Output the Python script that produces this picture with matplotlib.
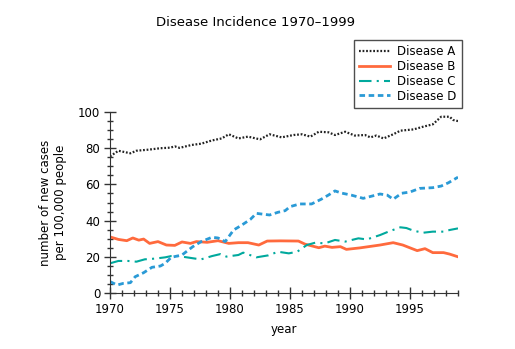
import matplotlib
matplotlib.use("Agg")
import matplotlib.pyplot as plt
from matplotlib.ticker import MultipleLocator

# Values
years_a = [1970, 1970.7, 1971.7, 1972.2, 1973.2, 1974.2, 1975, 1975.4, 1975.8, 1976.8,
           1977.6, 1978.5, 1979.3, 1979.9, 1980.7, 1981.5, 1982.5, 1983.3, 1984.3,
           1985.3, 1986, 1986.7, 1987.4, 1988.2, 1988.75, 1989.6, 1990.4, 1991.25,
           1991.7, 1992.2, 1992.8, 1993.6, 1994.2, 1995.3, 1996.1, 1996.9, 1997.6,
           1998.3, 1998.6, 1999]
disease_a = [75.5, 78.6, 77.2, 78.6, 79.2, 80, 80.3, 81, 80.2, 81.8,
             82.5, 84.3, 85.4, 87.7, 85.4, 86.4, 84.9, 87.7, 86,
             87.3, 87.7, 86.4, 89.1, 88.8, 87.3, 89.1, 87, 87.3,
             86, 87, 85.4, 87.7, 89.7, 90.4, 91.9, 93.2, 97.4,
             97.4, 95.6, 95]

years_b = [1970, 1970.7, 1971.4, 1971.9, 1972.4, 1972.8, 1973.3, 1974, 1974.7, 1975.4,
           1976, 1976.7, 1977.2, 1978.1, 1979, 1979.9, 1980.7, 1981.5, 1982.4, 1983.1,
           1984.2, 1985.7, 1986.25, 1987.4, 1987.9, 1988.5, 1989.2, 1989.7, 1990.8,
           1992.5, 1993.6, 1994.4, 1995.6, 1996.25, 1996.9, 1997.8, 1998.3, 1999]
disease_b = [31, 29.6, 28.9, 30.4, 29.2, 29.8, 27.4, 28.4, 26.5, 26.3,
             28.2, 27.4, 28.4, 28, 28.9, 27.4, 27.8, 27.8, 26.5, 28.7,
             28.8, 28.7, 27, 25, 25.9, 25.2, 25.6, 24.1, 24.9,
             26.5, 27.8, 26.5, 23.4, 24.5, 22.3, 22.3, 21.5, 20]

years_c = [1970, 1970.7, 1971.5, 1972.2, 1972.9, 1973.75, 1974.6, 1975.1, 1975.7, 1976.4,
           1977.1, 1977.6, 1978.5, 1979.2, 1979.7, 1980.7, 1981.1, 1982.2, 1983.2, 1984,
           1984.9, 1985.6, 1986.4, 1987.1, 1987.9, 1988.75, 1989.6, 1990.7, 1991.4,
           1992.5, 1993.2, 1994.2, 1994.7, 1995.3, 1996.1, 1996.9, 1997.8, 1998.3, 1999]
disease_c = [16.4, 17.7, 17.7, 17.3, 18.6, 19, 19.7, 20.4, 20.4, 19.7,
             19, 18.6, 20.4, 21.5, 20.1, 21, 22.3, 19.7, 20.8, 22.8,
             21.9, 22.8, 26.5, 27.8, 27.4, 29.3, 28.4, 30.2, 29.6,
             32, 33.9, 36.3, 35.9, 34.4, 33.3, 33.9, 33.9, 34.8, 35.7]

years_d = [1970, 1970.6, 1971.1, 1971.7, 1972.1, 1972.8, 1973.5, 1974.2, 1974.6, 1975.1,
           1976, 1976.9, 1977.6, 1978.5, 1979, 1979.6, 1980.3, 1981, 1981.7, 1982.2,
           1982.8, 1983.3, 1984, 1984.6, 1985, 1985.8, 1986.8, 1987.6, 1988.2, 1988.75,
           1989.3, 1990.1, 1991.1, 1991.8, 1992.5, 1993.1, 1993.6, 1994.3, 1995,
           1995.8, 1996.9, 1997.6, 1998.2, 1999]
disease_d = [6.3, 4.4, 5.3, 5.7, 9, 11.2, 14.2, 14.9, 16.4, 19.7,
             21, 25.6, 28.4, 30.8, 30.4, 28.4, 34.8, 37.6, 40.7, 44,
             43.5, 43.1, 44.6, 45.5, 47.7, 49.2, 49.2, 51.8, 54.1, 56.4,
             55.2, 54.1, 52.3, 53.5, 54.7, 54.1, 51.8, 55.1, 55.8,
             57.8, 58.2, 59.1, 60.9, 64]

plt.rcParams['font.family'] = ['DejaVu Sans']
plt.rcParams['font.size'] = 8.5

fig = plt.figure(figsize=(5.15, 3.49), dpi=100)
ax = fig.add_axes([0.2136, 0.1605, 0.6757, 0.5185])

ax.plot(years_a, disease_a, color='#222222', linestyle=(0, (0.8, 0.8)), linewidth=1.6, label='Disease A')
ax.plot(years_b, disease_b, color='#ff6a3d', linestyle='-', linewidth=2, label='Disease B')
ax.plot(years_c, disease_c, color='#00a99d', linestyle=(0, (6, 2.5, 1, 2.5)), linewidth=1.5, label='Disease C')
ax.plot(years_d, disease_d, color='#2a9ad6', linestyle=(0, (2, 1.3)), linewidth=2, label='Disease D')

ax.set_xlim(1970, 1999)
ax.set_ylim(0, 100)
ax.xaxis.set_major_locator(MultipleLocator(5))
ax.xaxis.set_minor_locator(MultipleLocator(1))
ax.yaxis.set_major_locator(MultipleLocator(20))
ax.yaxis.set_minor_locator(MultipleLocator(5))
ax.tick_params(which='major', direction='inout', length=8, width=1, color='#333333', pad=3)
ax.tick_params(which='minor', direction='inout', length=5, width=1, color='#333333')

for side in ['top', 'right']:
    ax.spines[side].set_visible(False)
for side in ['left', 'bottom']:
    ax.spines[side].set_color('#333333')

ax.set_xlabel('year', labelpad=5)
ax.set_ylabel('number of new cases\nper 100,000 people', labelpad=8)

fig.text(0.497, 0.935, 'Disease Incidence 1970\u20131999', ha='center', va='center', fontsize=9.5)

leg = ax.legend(loc='upper right', bbox_to_anchor=(0.897, 0.8854), bbox_transform=fig.transFigure,
                frameon=True, fancybox=False, edgecolor='#222222', handlelength=2.6,
                borderaxespad=0, labelspacing=0.15, handletextpad=0.6, borderpad=0.45)
leg.get_frame().set_linewidth(1)

fig.savefig('out.png', dpi=100)
